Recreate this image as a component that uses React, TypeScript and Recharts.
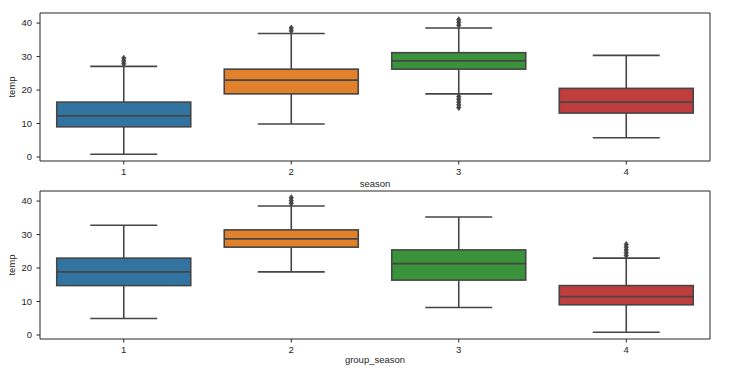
import React from "react";
import { Bar, ComposedChart, ReferenceArea, Scatter, XAxis, YAxis } from "recharts";

// categories on the x axis, one box per category
const categories = ["1", "2", "3", "4"];
const boxColors = ["#3274a1", "#e1812c", "#3a923a", "#c03d3e"];
const yTicks = [0, 10, 20, 30, 40];
const yDomain: [number, number] = [-1.19, 43.01];

// top panel: temp by season
const seasonLow = [0.82, 9.84, 18.86, 5.74];
const seasonQ1 = [9.02, 18.86, 26.24, 13.12];
const seasonMedian = [12.3, 22.96, 28.7, 16.4];
const seasonQ3 = [16.4, 26.24, 31.16, 20.5];
const seasonHigh = [27.06, 36.9, 38.54, 30.34];
const seasonOutliers = [
  [27.88, 28.7, 29.52],
  [37.72, 38.54],
  [14.76, 15.58, 16.4, 17.22, 18.04, 39.36, 40.18, 41.0],
  [],
];

// bottom panel: temp by group_season
const groupLow = [4.92, 18.86, 8.2, 0.82];
const groupQ1 = [14.76, 26.24, 16.4, 9.02];
const groupMedian = [18.86, 28.7, 21.32, 11.48];
const groupQ3 = [22.96, 31.4, 25.42, 14.76];
const groupHigh = [32.8, 38.54, 35.26, 22.96];
const groupOutliers = [[], [39.36, 40.18, 41.0], [], [23.78, 24.6, 25.42, 26.24, 27.06]];

const FONT = "'Liberation Sans', Arial, sans-serif";
const INK = "#262626";
const LINE = "#454545";

function BoxShape(props: any) {
  const { x, y, width, height, payload } = props;
  if (!payload || !Number.isFinite(y) || !Number.isFinite(height)) return null;
  const [lo, hi] = payload.range;
  // bar spans [lo, hi]; map the other stats along the same scale
  const py = (v: number) => y + (height * (hi - v)) / (hi - lo);
  const cx = x + width / 2;
  const cap = width / 4;
  const s = { stroke: LINE, strokeWidth: 1.6 };
  return (
    <g>
      <line x1={cx} x2={cx} y1={py(hi)} y2={py(payload.q3)} {...s} />
      <line x1={cx} x2={cx} y1={py(payload.q1)} y2={py(lo)} {...s} />
      <line x1={cx - cap} x2={cx + cap} y1={py(hi)} y2={py(hi)} {...s} />
      <line x1={cx - cap} x2={cx + cap} y1={py(lo)} y2={py(lo)} {...s} />
      <rect
        x={x}
        y={py(payload.q3)}
        width={width}
        height={py(payload.q1) - py(payload.q3)}
        fill={payload.color}
        {...s}
      />
      <line x1={x} x2={x + width} y1={py(payload.median)} y2={py(payload.median)} {...s} />
    </g>
  );
}

function flierShape(key: string) {
  return (props: any) => {
    const { cx, cy, payload } = props;
    if (!payload || payload[key] == null || !Number.isFinite(cx) || !Number.isFinite(cy)) return null;
    const h = 3;
    const w = 2.1;
    return (
      <polygon
        points={`${cx},${cy - h} ${cx + w},${cy} ${cx},${cy + h} ${cx - w},${cy}`}
        fill={LINE}
        stroke={LINE}
        strokeWidth={0.8}
      />
    );
  };
}

type PanelProps = {
  low: number[];
  q1: number[];
  median: number[];
  q3: number[];
  high: number[];
  outliers: number[][];
  xLabel: string;
  labelOffset: number;
};

function BoxPanel({ low, q1, median, q3, high, outliers, xLabel, labelOffset }: PanelProps) {
  const maxFliers = Math.max(...outliers.map((o) => o.length));
  const flierKeys = Array.from({ length: maxFliers }, (_, k) => `f${k}`);
  const rows = categories.map((cat, i) => {
    const row: any = {
      cat,
      range: [low[i], high[i]],
      q1: q1[i],
      median: median[i],
      q3: q3[i],
      color: boxColors[i],
    };
    outliers[i].forEach((v, k) => {
      row[`f${k}`] = v;
    });
    return row;
  });

  return (
    <ComposedChart
      width={738}
      height={192}
      data={rows}
      margin={{ top: 13, right: 28, bottom: 0, left: 0 }}
      barCategoryGap="10%"
    >
      <XAxis
        dataKey="cat"
        type="category"
        height={31}
        axisLine={false}
        tickSize={3.5}
        tickMargin={4}
        tickLine={{ stroke: INK }}
        tick={{ fontSize: 9.5, fill: INK, fontFamily: FONT }}
        label={{
          value: xLabel,
          position: "insideBottom",
          offset: labelOffset,
          style: { fontSize: 9.5, fill: INK, fontFamily: FONT },
        }}
      />
      <YAxis
        type="number"
        domain={yDomain}
        allowDataOverflow
        ticks={yTicks}
        width={40}
        axisLine={false}
        tickSize={3.5}
        tickMargin={4.5}
        tickLine={{ stroke: INK }}
        tick={{ fontSize: 9.5, fill: INK, fontFamily: FONT }}
        label={{
          value: "temp",
          angle: -90,
          position: "insideLeft",
          offset: 12,
          style: { fontSize: 9.5, fill: INK, fontFamily: FONT, textAnchor: "middle" },
        }}
      />
      <ReferenceArea
        x1="1"
        x2="4"
        y1={yDomain[0]}
        y2={yDomain[1]}
        fill="none"
        stroke={INK}
        strokeWidth={1}
        ifOverflow="visible"
      />
      <Bar dataKey="range" shape={BoxShape} isAnimationActive={false} />
      {flierKeys.map((key) => (
        <Scatter key={key} dataKey={key} shape={flierShape(key)} isAnimationActive={false} />
      ))}
    </ComposedChart>
  );
}

export default function App() {
  return (
    <div
      style={{
        position: "absolute",
        left: 0,
        top: 0,
        width: 738,
        height: 372,
        background: "#ffffff",
        fontFamily: FONT,
      }}
    >
      <div style={{ position: "absolute", left: 0, top: 0 }}>
        <BoxPanel
          low={seasonLow}
          q1={seasonQ1}
          median={seasonMedian}
          q3={seasonQ3}
          high={seasonHigh}
          outliers={seasonOutliers}
          xLabel="season"
          labelOffset={5.5}
        />
      </div>
      <div style={{ position: "absolute", left: 0, top: 178 }}>
        <BoxPanel
          low={groupLow}
          q1={groupQ1}
          median={groupMedian}
          q3={groupQ3}
          high={groupHigh}
          outliers={groupOutliers}
          xLabel="group_season"
          labelOffset={7.5}
        />
      </div>
    </div>
  );
}
